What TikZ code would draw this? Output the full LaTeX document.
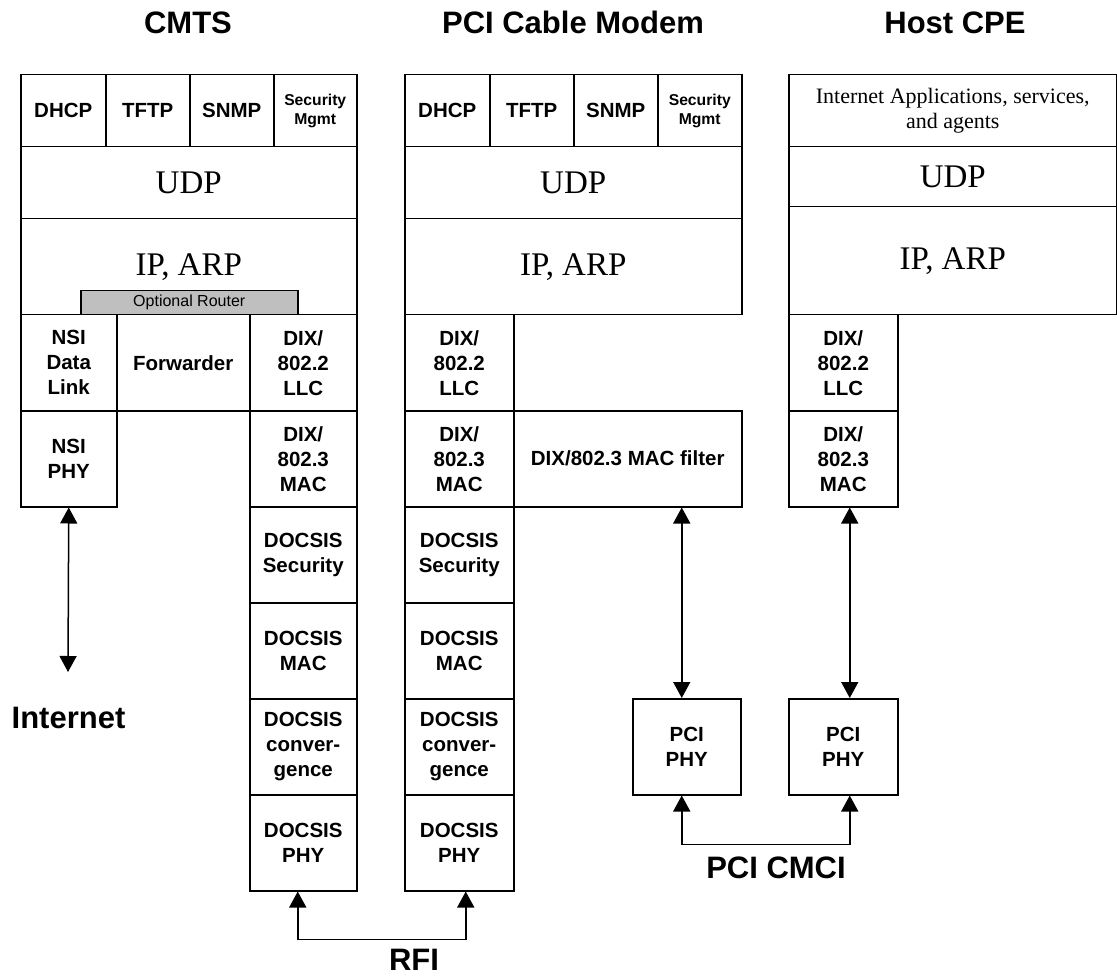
\documentclass[tikz,border=0pt]{standalone}
\usepackage{fontspec}
\setmainfont{Liberation Serif}
\newfontfamily\arialf{Liberation Sans}
\usetikzlibrary{arrows.meta}
\newcommand\bxf{\arialf\bfseries\fontsize{20.5}{25}\selectfont}
\newcommand\smf{\arialf\bfseries\fontsize{15.7}{19}\selectfont}
\newcommand\ttlf{\arialf\bfseries\fontsize{31}{36}\selectfont}
\newcommand\serf{\fontsize{33}{38}\selectfont}
\begin{document}
\begin{tikzpicture}[x=1pt,y=-1pt,
  cell/.style={draw, line width=1.5pt, anchor=north west, inner sep=0pt, align=center, font=\bxf},
  ttl/.style={anchor=base, inner sep=0pt, font=\ttlf},
  arr/.style={line width=1.5pt, {Triangle[width=17pt,length=16pt]}-{Triangle[width=17pt,length=16pt]}}
]
\useasboundingbox (0,0) rectangle (1117,976);

% titles
\node[ttl] (tcmts) at (188,34) {CMTS};
\node[ttl] (tcm) at (573,34) {PCI Cable Modem};
\node[ttl] (thost) at (955,34) {Host CPE};

% ---------- CMTS ----------
\node[cell, minimum width=85, minimum height=72] (c-dhcp) at (20,74) {DHCP};
\node[cell, minimum width=84, minimum height=72] (c-tftp) at (105,74) {TFTP};
\node[cell, minimum width=84, minimum height=72] (c-snmp) at (189,74) {SNMP};
\node[cell, minimum width=83, minimum height=72, font=\smf] (c-sec) at (273,74) {Security\\Mgmt};
\node[cell, minimum width=336, minimum height=72, font=\serf] (c-udp) at (20,146) {UDP};
\node[cell, minimum width=336, minimum height=96, font=\serf] (c-ip) at (20,218) {IP, ARP};
\node[cell, minimum width=217, minimum height=24, fill=black!25, font=\arialf\fontsize{16}{18}\selectfont] (c-rtr) at (80,290) {Optional Router};
\node[cell, minimum width=96, minimum height=96] (c-nsidl) at (20,314) {NSI\\Data\\Link};
\node[cell, minimum width=133, minimum height=96] (c-fwd) at (116,314) {Forwarder};
\node[cell, minimum width=107, minimum height=96] (c-llc) at (249,314) {DIX/\\802.2\\LLC};
\node[cell, minimum width=96, minimum height=96] (c-nsiphy) at (20,410) {NSI\\PHY};
\node[cell, minimum width=107, minimum height=96] (c-mac) at (249,410) {DIX/\\802.3\\MAC};
\node[cell, minimum width=107, minimum height=96] (c-dsec) at (249,506) {DOCSIS\\Security};
\node[cell, minimum width=107, minimum height=96] (c-dmac) at (249,602) {DOCSIS\\MAC};
\node[cell, minimum width=107, minimum height=96] (c-dconv) at (249,698) {DOCSIS\\conver-\\gence};
\node[cell, minimum width=107, minimum height=96] (c-dphy) at (249,794) {DOCSIS\\PHY};

% ---------- Cable modem ----------
\node[cell, minimum width=85, minimum height=72] (m-dhcp) at (404,74) {DHCP};
\node[cell, minimum width=84, minimum height=72] (m-tftp) at (489,74) {TFTP};
\node[cell, minimum width=84, minimum height=72] (m-snmp) at (573,74) {SNMP};
\node[cell, minimum width=84, minimum height=72, font=\smf] (m-sec) at (657,74) {Security\\Mgmt};
\node[cell, minimum width=337, minimum height=72, font=\serf] (m-udp) at (404,146) {UDP};
\node[cell, minimum width=337, minimum height=96, font=\serf] (m-ip) at (404,218) {IP, ARP};
\node[cell, minimum width=109, minimum height=96] (m-llc) at (404,314) {DIX/\\802.2\\LLC};
\node[cell, minimum width=109, minimum height=96] (m-mac) at (404,410) {DIX/\\802.3\\MAC};
\node[cell, minimum width=228, minimum height=96] (m-filt) at (513,410) {DIX/802.3 MAC filter};
\node[cell, minimum width=109, minimum height=96] (m-dsec) at (404,506) {DOCSIS\\Security};
\node[cell, minimum width=109, minimum height=96] (m-dmac) at (404,602) {DOCSIS\\MAC};
\node[cell, minimum width=109, minimum height=96] (m-dconv) at (404,698) {DOCSIS\\conver-\\gence};
\node[cell, minimum width=109, minimum height=96] (m-dphy) at (404,794) {DOCSIS\\PHY};

% ---------- Host CPE ----------
\node[cell, minimum width=328, minimum height=72, font=\fontsize{22}{25}\selectfont] (h-app) at (788,74) {Internet Applications, services,\\and agents};
\node[cell, minimum width=328, minimum height=60, font=\serf] (h-udp) at (788,146) {UDP};
\node[cell, minimum width=328, minimum height=108, font=\serf] (h-ip) at (788,206) {IP, ARP};
\node[cell, minimum width=109, minimum height=96] (h-llc) at (788,314) {DIX/\\802.2\\LLC};
\node[cell, minimum width=109, minimum height=96] (h-mac) at (788,410) {DIX/\\802.3\\MAC};

% ---------- PCI PHY boxes ----------
\node[cell, minimum width=108, minimum height=96] (p1) at (632,698) {PCI\\PHY};
\node[cell, minimum width=109, minimum height=96] (p2) at (788,698) {PCI\\PHY};

% ---------- connectors ----------
\coordinate (inet-end) at (68,672);
\draw[arr] (c-nsiphy.south) -- (inet-end);
\node[ttl] (inet) at (68.5,728) {Internet};

\draw[arr] ([xshift=-5.5pt]c-dphy.south) -- ++(0,48) -| ([xshift=6.5pt]m-dphy.south);
\node[ttl] (rfi) at (414,970) {RFI};

\draw[arr] ([xshift=-5pt]p1.north) -- ([xshift=-5pt]p1.north |- m-filt.south);
\draw[arr] ([xshift=6.5pt]p2.north) -- ([xshift=6.5pt]p2.north |- h-mac.south);
\draw[arr] ([xshift=-5pt]p1.south) -- ++(0,49) -| ([xshift=6.5pt]p2.south);
\node[ttl] (cmci) at (776,878) {PCI CMCI};
\end{tikzpicture}
\end{document}
